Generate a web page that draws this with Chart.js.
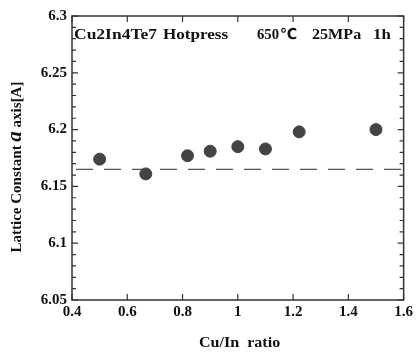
<!DOCTYPE html>
<html>
<head>
<meta charset="utf-8">
<script src="https://cdn.jsdelivr.net/npm/chart.js@4"></script>
<style>
  html, body { margin: 0; padding: 0; background: #fff; }
  #wrap { width: 416px; height: 353px; }
</style>
</head>
<body>
<div id="wrap"><canvas id="chart" width="416" height="353"></canvas></div>
<script>
// Cu/In ratio vs lattice constant a
const ratios = [0.5, 0.667, 0.818, 0.9, 1.0, 1.1, 1.222, 1.5];
const latticeA = [6.174, 6.161, 6.177, 6.181, 6.185, 6.183, 6.198, 6.200];
const refLineX = [0.4, 1.6];
const refLineY = [6.165, 6.165];
const xTicks = [0.4, 0.6, 0.8, 1.0, 1.2, 1.4, 1.6];
const yTicks = [6.05, 6.1, 6.15, 6.2, 6.25, 6.3];
const yMinorStep = 0.01;

const serif = "'Liberation Serif', 'Times New Roman', serif";

// text stretched a bit wider, like the original scan
function wideText(ctx, txt, x, y, font, sx) {
  ctx.save();
  ctx.font = font;
  ctx.textAlign = "left";
  ctx.translate(x, y);
  ctx.scale(sx, 1);
  ctx.fillText(txt, 0, 0);
  ctx.restore();
}

// box frame, inward ticks and the text labels
const framePlugin = {
  id: "frame",
  afterDraw(chart) {
    const ctx = chart.ctx;
    const a = chart.chartArea;
    const xs = chart.scales.x;
    const ys = chart.scales.y;
    ctx.save();
    ctx.strokeStyle = "#333";
    ctx.lineWidth = 1.5;
    ctx.strokeRect(a.left, a.top, a.right - a.left, a.bottom - a.top);

    ctx.lineWidth = 1.2;
    ctx.beginPath();
    xTicks.forEach(v => {
      const px = xs.getPixelForValue(v);
      ctx.moveTo(px, a.bottom); ctx.lineTo(px, a.bottom - 6);
      ctx.moveTo(px, a.top); ctx.lineTo(px, a.top + 6);
    });
    const n = Math.round((yTicks[yTicks.length - 1] - yTicks[0]) / yMinorStep);
    for (let i = 0; i <= n; i++) {
      const v = yTicks[0] + i * yMinorStep;
      const py = ys.getPixelForValue(v);
      const len = i % 5 === 0 ? 6 : 4;
      ctx.moveTo(a.left, py); ctx.lineTo(a.left + len, py);
      ctx.moveTo(a.right, py); ctx.lineTo(a.right - len, py);
    }
    ctx.stroke();

    // annotation text
    ctx.fillStyle = "#111";
    ctx.textBaseline = "alphabetic";
    const f14 = "bold 14px " + serif;
    wideText(ctx, "Cu2In4Te7", 74, 39, f14, 1.25);
    wideText(ctx, "Hotpress", 163, 39, f14, 1.22);
    wideText(ctx, "650", 257, 39, f14, 1.05);
    wideText(ctx, "\u2103", 280, 39, "bold 15px 'DejaVu Sans', sans-serif", 0.95);
    wideText(ctx, "25MPa", 312, 39, f14, 1.15);
    wideText(ctx, "1h", 373, 39, f14, 1.2);

    // x axis title
    wideText(ctx, "Cu/In  ratio", 199, 347, "bold 15px " + serif, 1.07);

    // y axis title with italic a
    ctx.translate(21, 167);
    ctx.rotate(-Math.PI / 2);
    const parts = [
      ["Lattice Constant ", "bold 15px " + serif],
      ["a", "bold italic 21px " + serif],
      [" axis[A]", "bold 15px " + serif]
    ];
    let total = 0;
    parts.forEach(p => { ctx.font = p[1]; total += ctx.measureText(p[0]).width; });
    let x = -total / 2;
    ctx.textAlign = "left";
    parts.forEach(p => {
      ctx.font = p[1];
      ctx.fillText(p[0], x, 0);
      x += ctx.measureText(p[0]).width;
    });
    ctx.restore();
  }
};

new Chart(document.getElementById("chart"), {
  type: "scatter",
  data: {
    datasets: [
      {
        label: "a",
        data: ratios.map((r, i) => ({ x: r, y: latticeA[i] })),
        backgroundColor: "#444",
        borderColor: "#444",
        pointRadius: 6,
        pointHoverRadius: 6
      },
      {
        label: "ref",
        type: "line",
        data: refLineX.map((r, i) => ({ x: r, y: refLineY[i] })),
        borderColor: "#555",
        borderWidth: 1.2,
        borderDash: [17, 11],
        borderDashOffset: -4,
        pointRadius: 0,
        fill: false
      }
    ]
  },
  options: {
    responsive: false,
    animation: false,
    layout: { padding: { left: 0, right: 9, top: 16, bottom: 0 } },
    plugins: { legend: { display: false }, tooltip: { enabled: false } },
    scales: {
      x: {
        type: "linear",
        min: 0.4,
        max: 1.6,
        afterBuildTicks: s => { s.ticks = xTicks.map(v => ({ value: v })); },
        afterFit: s => { s.height = 53; },
        grid: { display: false, drawTicks: false },
        border: { display: false },
        ticks: {
          padding: 3,
          color: "#111",
          font: { family: serif, size: 15, weight: "bold" },
          callback: v => String(+v.toFixed(2))
        }
      },
      y: {
        type: "linear",
        min: 6.05,
        max: 6.3,
        afterBuildTicks: s => { s.ticks = yTicks.map(v => ({ value: v })); },
        afterFit: s => { s.width = 72; },
        grid: { display: false, drawTicks: false },
        border: { display: false },
        ticks: {
          padding: 5,
          color: "#111",
          font: { family: serif, size: 15, weight: "bold" },
          callback: v => String(+v.toFixed(2))
        }
      }
    }
  },
  plugins: [framePlugin]
});
</script>
</body>
</html>
